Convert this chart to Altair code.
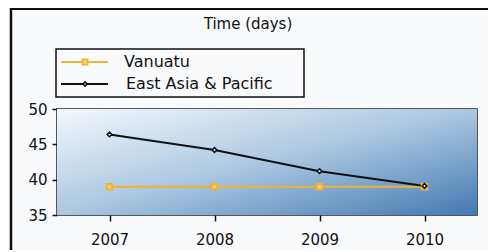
import altair as alt
import pandas as pd

years = ["2007", "2008", "2009", "2010"]
series = ["Vanuatu", "East Asia & Pacific"]
vanuatu = [39, 39, 39, 39]
east_asia = [46.4, 44.2, 41.2, 39.1]
colors = ["#f2b12f", "#111111"]
y_ticks = [35, 40, 45, 50]
title_text = "Time (days)"

W, H = 420, 106
FONT = "DejaVu Sans"

rows = []
for y, v in zip(years, vanuatu):
    rows.append({"year": y, "value": v, "series": series[0]})
for y, v in zip(years, east_asia):
    rows.append({"year": y, "value": v, "series": series[1]})
df = pd.DataFrame(rows)

xs = alt.Scale(type="point", domain=years, padding=0.5)
ys = alt.Scale(domain=[35, 50], nice=False, zero=False)
cs = alt.Scale(domain=series, range=colors)

one = pd.DataFrame({"a": [0]})

grad = alt.LinearGradient(
    gradient="linear",
    stops=[
        alt.GradientStop(offset=0, color="#f4f8fc"),
        alt.GradientStop(offset=0.5, color="#aac7e1"),
        alt.GradientStop(offset=1, color="#4479b2"),
    ],
    x1=0, y1=0, x2=1, y2=1,
)
bg = alt.Chart(one).mark_rect(color=grad).encode(
    x=alt.value(0), x2=alt.value(W), y=alt.value(0), y2=alt.value(H)
)

base = alt.Chart(df).encode(
    x=alt.X("year:O", scale=xs, sort=years,
            axis=alt.Axis(title=None, labelAngle=0, tickSize=6, labelPadding=11,
                          domain=False)),
    y=alt.Y("value:Q", scale=ys,
            axis=alt.Axis(title=None, values=y_ticks, tickSize=5, labelPadding=5,
                          domain=False)),
    color=alt.Color("series:N", scale=cs, legend=None),
)

lines = base.mark_line(strokeWidth=2)
pts_v = base.transform_filter(alt.datum.series == series[0]).mark_point(
    shape="square", size=30, filled=False, strokeWidth=2, fill="#f6cf6e", opacity=1)
pts_e = base.transform_filter(alt.datum.series == series[1]).mark_point(
    shape="diamond", size=22, filled=False, strokeWidth=1.5, fill="#dde8f2", opacity=1)

# frame of the chart
frame_left = alt.Chart(one).mark_rule(color="#111", strokeWidth=2.5).encode(
    x=alt.value(-46), y=alt.value(-101), y2=alt.value(143))
frame_top = alt.Chart(one).mark_rule(color="#111", strokeWidth=2).encode(
    x=alt.value(-47), x2=alt.value(431), y=alt.value(-100))

title = alt.Chart(one).mark_text(
    text=title_text, font=FONT, fontSize=15, color="#111").encode(
    x=alt.value(191), y=alt.value(-85))

# legend
leg_box = alt.Chart(one).mark_rect(fill="#f9fafc", stroke="#111", strokeWidth=1.5).encode(
    x=alt.value(-1), x2=alt.value(247), y=alt.value(-60), y2=alt.value(-12))
leg_layers = [leg_box]
row_y = [-47, -25]
text_x = [67, 69]
shapes = ["square", "diamond"]
sizes = [28, 18]
fills = ["#f6cf6e", "#f9fafc"]
for i, s in enumerate(series):
    leg_layers.append(alt.Chart(one).mark_rule(color=colors[i], strokeWidth=2).encode(
        x=alt.value(4), x2=alt.value(51), y=alt.value(row_y[i])))
    leg_layers.append(alt.Chart(one).mark_point(
        shape=shapes[i], size=sizes[i], color=colors[i], fill=fills[i], filled=False,
        strokeWidth=1.5, opacity=1).encode(x=alt.value(28), y=alt.value(row_y[i])))
    leg_layers.append(alt.Chart(one).mark_text(
        text=s, font=FONT, fontSize=16, color="#111", align="left").encode(
        x=alt.value(text_x[i]), y=alt.value(row_y[i])))

chart = alt.layer(bg, lines, pts_v, pts_e, frame_left, frame_top, title, *leg_layers).properties(
    width=W, height=H,
    autosize=alt.AutoSizeParams(type="none"),
    padding={"left": 49, "top": 101, "right": 11, "bottom": 35},
    background="#f9fafc",
).configure_view(
    stroke="#222", strokeWidth=1.5
).configure_axis(
    labelFont=FONT, labelFontSize=15, labelColor="#111", tickColor="#111",
    tickWidth=1.5, grid=False,
)

chart.save("out.html", embed_options={"renderer": "svg", "actions": False})
